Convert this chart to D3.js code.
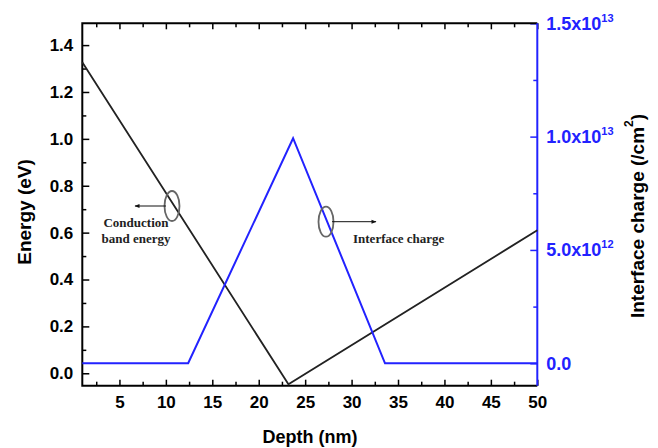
<!DOCTYPE html>
<html>
<head>
<meta charset="utf-8">
<script src="https://cdn.jsdelivr.net/npm/d3@7"></script>
<style>
  body { margin: 0; background: #fff; }
  text { font-family: "Liberation Sans", Arial, sans-serif; }
</style>
</head>
<body>
<svg id="chart"></svg>
<script>
// conduction band energy (eV) vs depth (nm)
const bandDepth = [1, 23.2, 50];
const bandEnergy = [1.327, -0.047, 0.61];
// interface charge (/cm^2) vs depth (nm)
const chargeDepth = [1, 12.4, 23.7, 33.6, 50];
const chargeValue = [0, 0, 9.93e12, 0, 0];

const xTicks = [5, 10, 15, 20, 25, 30, 35, 40, 45, 50];
const energyTicks = [0, 0.2, 0.4, 0.6, 0.8, 1.0, 1.2, 1.4];
const chargeTicks = [0, 5e12, 1e13, 1.5e13];
const chargeLabels = [["0.0", ""], ["5.0x10", "12"], ["1.0x10", "13"], ["1.5x10", "13"]];

const width = 658, height = 448;
const blue = "#2222ff";
const svg = d3.select("#chart").attr("width", width).attr("height", height);

const x = d3.scaleLinear().domain([1, 50]).range([82.3, 537.3]);
const y = d3.scaleLinear().domain([-0.053, 1.493]).range([385.7, 23.3]);
const y2 = d3.scaleLinear().domain([-0.99e12, 1.5e13]).range([385.7, 23.3]);

const yBot = y.range()[0], yTop = y.range()[1];

function styleAxis(g, color, size) {
  g.select(".domain").remove();
  g.selectAll("line").attr("stroke", color).attr("stroke-width", 1.5);
  g.selectAll("text").attr("fill", color).attr("font-size", size || 17).attr("font-weight", "bold");
}

// minor ticks
const minorX = d3.range(2.5, 50, 5);
svg.append("g").attr("transform", `translate(0,${yBot})`)
  .call(d3.axisBottom(x).tickValues(minorX).tickSize(-4).tickFormat(""))
  .call(g => styleAxis(g, "#000"));
svg.append("g").attr("transform", `translate(0,${yTop})`)
  .call(d3.axisTop(x).tickValues(minorX).tickSize(-4).tickFormat(""))
  .call(g => styleAxis(g, "#000"));
svg.append("g").attr("transform", `translate(0,${yTop})`)
  .call(d3.axisTop(x).tickValues(xTicks).tickSize(-6).tickFormat(""))
  .call(g => styleAxis(g, "#000"));
svg.append("g").attr("transform", `translate(${x.range()[0]},0)`)
  .call(d3.axisLeft(y).tickValues(d3.range(0.1, 1.5, 0.2)).tickSize(-4).tickFormat(""))
  .call(g => styleAxis(g, "#000"));
svg.append("g").attr("transform", `translate(${x.range()[1]},0)`)
  .call(d3.axisRight(y2).tickValues([2.5e12, 7.5e12, 1.25e13]).tickSize(-4).tickFormat(""))
  .call(g => styleAxis(g, blue));

// major axes
svg.append("g").attr("transform", `translate(0,${yBot})`)
  .call(d3.axisBottom(x).tickValues(xTicks).tickSize(-6).tickPadding(10).tickFormat(d3.format("d")))
  .call(g => styleAxis(g, "#000"));
svg.append("g").attr("transform", `translate(${x.range()[0]},0)`)
  .call(d3.axisLeft(y).tickValues(energyTicks).tickSize(-7).tickPadding(9).tickFormat(d3.format(".1f")))
  .call(g => styleAxis(g, "#000"));
const rAxis = svg.append("g").attr("transform", `translate(${x.range()[1]},0)`)
  .call(d3.axisRight(y2).tickValues(chargeTicks).tickSize(-7).tickPadding(9).tickFormat(""))
  .call(g => styleAxis(g, blue, 18));
rAxis.selectAll(".tick text").each(function(d, i) {
  const t = d3.select(this).text(null);
  t.append("tspan").text(chargeLabels[i][0]);
  t.append("tspan").attr("dy", -8).attr("font-size", 11).text(chargeLabels[i][1]);
});

// frame
svg.append("path")
  .attr("d", `M${x.range()[1]},${yTop}H${x.range()[0]}V${yBot}H${x.range()[1]}`)
  .attr("fill", "none").attr("stroke", "#000").attr("stroke-width", 2);
svg.append("line")
  .attr("x1", x.range()[1]).attr("x2", x.range()[1]).attr("y1", yTop).attr("y2", yBot)
  .attr("stroke", blue).attr("stroke-width", 2);

// lines
svg.append("path")
  .datum(bandDepth.map((d, i) => [d, bandEnergy[i]]))
  .attr("d", d3.line().x(d => x(d[0])).y(d => y(d[1])))
  .attr("fill", "none").attr("stroke", "#222").attr("stroke-width", 1.8);
svg.append("path")
  .datum(chargeDepth.map((d, i) => [d, chargeValue[i]]))
  .attr("d", d3.line().x(d => x(d[0])).y(d => y2(d[1])))
  .attr("fill", "none").attr("stroke", blue).attr("stroke-width", 2);

// axis titles
svg.append("text").attr("transform", "translate(24,212) rotate(-90)")
  .attr("text-anchor", "middle").attr("dominant-baseline", "central")
  .attr("font-size", 19).attr("font-weight", "bold").text("Energy (eV)");
svg.append("text").attr("x", 310).attr("y", 443)
  .attr("text-anchor", "middle").attr("font-size", 18).attr("font-weight", "bold").text("Depth (nm)");
const t2 = svg.append("text").attr("transform", "translate(637,216) rotate(-90)")
  .attr("text-anchor", "middle").attr("dominant-baseline", "central")
  .attr("font-size", 19).attr("font-weight", "bold");
t2.append("tspan").text("Interface charge (/cm");
t2.append("tspan").attr("font-size", 12).attr("dy", -8).text("2");
t2.append("tspan").attr("dy", 8).text(")");

// annotations
svg.append("defs").append("marker")
  .attr("id", "arr").attr("viewBox", "0 0 10 10").attr("refX", 9).attr("refY", 5)
  .attr("markerWidth", 7).attr("markerHeight", 5).attr("orient", "auto")
  .append("path").attr("d", "M0,1L10,5L0,9Z").attr("fill", "#111");

const ann = [
  { cx: 172, cy: 206, x2: 135, lines: ["Conduction", "band energy"], tx: 136, ty: 227, anchor: "middle" },
  { cx: 326, cy: 221.7, x2: 376, lines: ["Interface charge"], tx: 353, ty: 243, anchor: "start" }
];
ann.forEach(a => {
  svg.append("ellipse").attr("cx", a.cx).attr("cy", a.cy).attr("rx", 7.5).attr("ry", 15)
    .attr("fill", "none").attr("stroke", "#666").attr("stroke-width", 1.8);
  svg.append("line").attr("x1", a.x2 < a.cx ? a.cx - 6 : a.cx + 6).attr("x2", a.x2)
    .attr("y1", a.cy).attr("y2", a.cy)
    .attr("stroke", "#111").attr("stroke-width", 1).attr("marker-end", "url(#arr)");
  a.lines.forEach((s, i) => {
    svg.append("text").attr("x", a.tx).attr("y", a.ty + i * 16)
      .attr("text-anchor", a.anchor)
      .style("font-family", "'Liberation Serif', 'Times New Roman', serif")
      .attr("font-size", 13).attr("font-weight", "bold").attr("fill", "#222").text(s);
  });
});
</script>
</body>
</html>
